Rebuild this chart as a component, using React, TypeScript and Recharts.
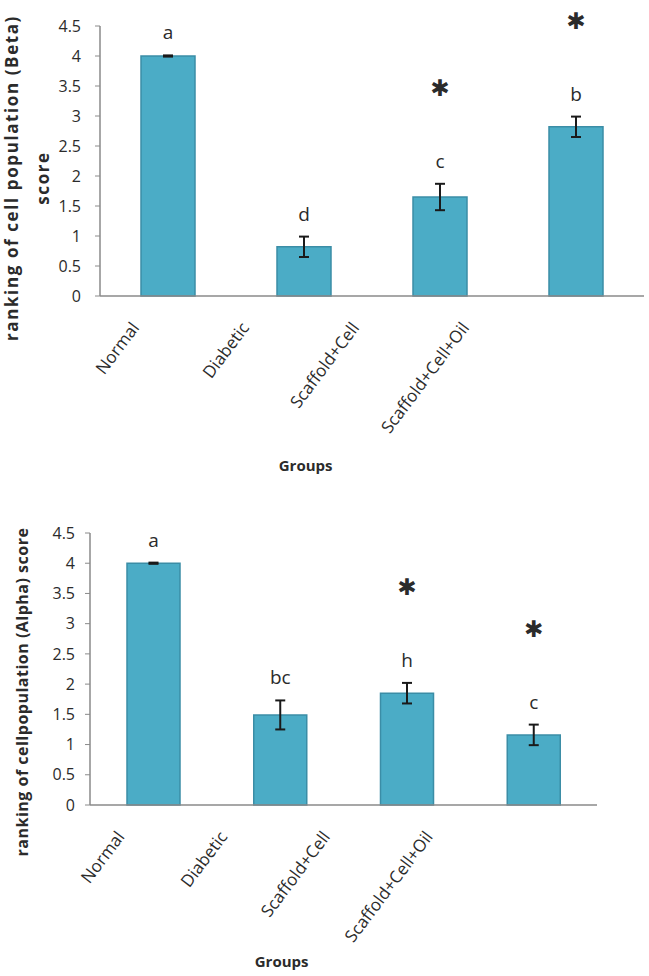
import { Bar, BarChart, ErrorBar, LabelList, XAxis, YAxis } from "recharts";

const groups = ["Normal", "Diabetic", "Scaffold+Cell", "Scaffold+Cell+Oil"];

const betaScores = [4.0, 0.82, 1.65, 2.82];
const betaErrors = [0.01, 0.17, 0.22, 0.17];
const betaLetters = ["a", "d", "c", "b"];

const alphaScores = [4.0, 1.49, 1.85, 1.16];
const alphaErrors = [0.01, 0.24, 0.17, 0.17];
const alphaLetters = ["a", "bc", "h", "c"];

const starred = [false, false, true, true];
const yTicks = [0, 0.5, 1, 1.5, 2, 2.5, 3, 3.5, 4, 4.5];

const FONT = "'Open Sans', sans-serif";
const BAR = "#4BACC6";
const BAR_EDGE = "#3B8DA6";
const AXIS = "#8a8a8a";
const INK = "#2b2b2b";

const betaData = groups.map((g, i) => ({ group: g, score: betaScores[i], err: betaErrors[i], letter: betaLetters[i] }));
const alphaData = groups.map((g, i) => ({ group: g, score: alphaScores[i], err: alphaErrors[i], letter: alphaLetters[i] }));

function makeTick(step: number) {
  return (props: any) => {
    const { x, y, payload, index } = props;
    const tx = x - 28 - index * step;
    const ty = y + 32;
    return (
      <text
        x={tx}
        y={ty}
        transform={`rotate(-53, ${tx}, ${ty})`}
        textAnchor="end"
        fontFamily={FONT}
        fontSize={17}
        fill={INK}
      >
        {payload.value}
      </text>
    );
  };
}

function makeMarks(scores: number[], errors: number[]) {
  return (props: any) => {
    const { x, y, width, height, index, value } = props;
    const perUnit = height / scores[index];
    const errTop = y - errors[index] * perUnit;
    const cx = x + width / 2;
    const letterY = errTop - 16;
    return (
      <g>
        <text x={cx} y={letterY} textAnchor="middle" fontFamily={FONT} fontSize={19} fill={INK}>
          {value}
        </text>
        {starred[index] && (
          <text
            x={cx}
            y={letterY - 80}
            textAnchor="middle"
            dominantBaseline="central"
            fontFamily="'DejaVu Sans', sans-serif"
            fontSize={23}
            fill={INK}
          >
            ✱
          </text>
        )}
      </g>
    );
  };
}

const groupsLabel = (props: any) => {
  const { viewBox } = props;
  return (
    <text
      x={viewBox.x + viewBox.width * 0.378}
      y={viewBox.y + viewBox.height - 9}
      textAnchor="middle"
      fontFamily={FONT}
      fontSize={15}
      fontWeight={700}
      fill={INK}
    >
      Groups
    </text>
  );
};

const betaYLabel = (props: any) => {
  const { viewBox } = props;
  const cy = viewBox.y + viewBox.height / 2 + 17;
  const x1 = viewBox.x + 11;
  const x2 = viewBox.x + 42;
  return (
    <g fontFamily={FONT} fontSize={17} fontWeight={700} fill={INK} textAnchor="middle" letterSpacing={1.6}>
      <text x={x1} y={cy} dominantBaseline="central" transform={`rotate(-90, ${x1}, ${cy})`}>
        ranking of cell population (Beta)
      </text>
      <text x={x2} y={cy} dominantBaseline="central" transform={`rotate(-90, ${x2}, ${cy})`}>
        score
      </text>
    </g>
  );
};

const alphaYLabel = (props: any) => {
  const { viewBox } = props;
  const cy = viewBox.y + viewBox.height / 2 + 23;
  const x1 = viewBox.x + 22;
  return (
    <text
      x={x1}
      y={cy}
      dominantBaseline="central"
      textAnchor="middle"
      transform={`rotate(-90, ${x1}, ${cy})`}
      fontFamily={FONT}
      fontSize={16}
      fontWeight={700}
      letterSpacing={0.5}
      fill={INK}
    >
      ranking of cellpopulation (Alpha) score
    </text>
  );
};

export default function App() {
  return (
    <div style={{ position: "absolute", left: 0, top: 0, width: 649, height: 976, background: "#fff" }}>
      <div style={{ position: "absolute", left: 0, top: 0 }}>
        <BarChart width={649} height={480} data={betaData} margin={{ top: 26, right: 5, bottom: 0, left: 0 }}>
          <XAxis
            dataKey="group"
            height={184}
            tickLine={false}
            tickSize={0}
            tickMargin={0}
            interval={0}
            axisLine={{ stroke: AXIS, strokeWidth: 1.5 }}
            tick={makeTick(26)}
            label={{ content: groupsLabel }}
          />
          <YAxis
            width={100}
            domain={[0, 4.5]}
            ticks={yTicks}
            interval={0}
            tickSize={5}
            tickMargin={14}
            axisLine={{ stroke: AXIS, strokeWidth: 1.5 }}
            tickLine={{ stroke: AXIS }}
            tick={{ fontFamily: FONT, fontSize: 16, fill: INK }}
            label={{ content: betaYLabel }}
          />
          <Bar dataKey="score" fill={BAR} stroke={BAR_EDGE} strokeWidth={1.5} barSize={54} isAnimationActive={false}>
            <ErrorBar dataKey="err" width={5} stroke="#1a1a1a" strokeWidth={2} isAnimationActive={false} />
            <LabelList dataKey="letter" content={makeMarks(betaScores, betaErrors)} />
          </Bar>
        </BarChart>
      </div>
      <div style={{ position: "absolute", left: 0, top: 490 }}>
        <BarChart width={649} height={486} data={alphaData} margin={{ top: 43, right: 52, bottom: 0, left: 0 }}>
          <XAxis
            dataKey="group"
            height={171}
            tickLine={false}
            tickSize={0}
            tickMargin={0}
            interval={0}
            axisLine={{ stroke: AXIS, strokeWidth: 1.5 }}
            tick={makeTick(24)}
            label={{ content: groupsLabel }}
          />
          <YAxis
            width={90}
            domain={[0, 4.5]}
            ticks={yTicks}
            interval={0}
            tickSize={5}
            tickMargin={10}
            axisLine={{ stroke: AXIS, strokeWidth: 1.5 }}
            tickLine={{ stroke: AXIS }}
            tick={{ fontFamily: FONT, fontSize: 16, fill: INK }}
            label={{ content: alphaYLabel }}
          />
          <Bar dataKey="score" fill={BAR} stroke={BAR_EDGE} strokeWidth={1.5} barSize={53} isAnimationActive={false}>
            <ErrorBar dataKey="err" width={5} stroke="#1a1a1a" strokeWidth={2} isAnimationActive={false} />
            <LabelList dataKey="letter" content={makeMarks(alphaScores, alphaErrors)} />
          </Bar>
        </BarChart>
      </div>
    </div>
  );
}
